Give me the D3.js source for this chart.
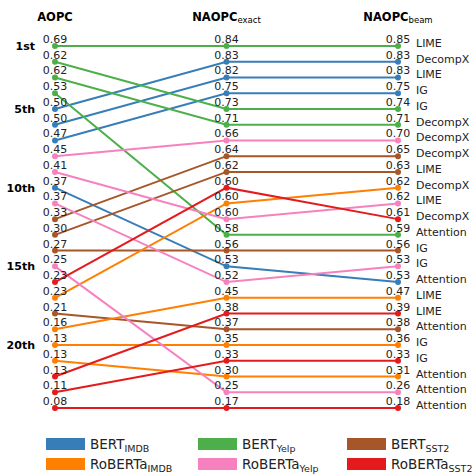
<!DOCTYPE html>
<html>
<head>
<meta charset="utf-8">
<script src="https://cdn.jsdelivr.net/npm/d3@7"></script>
<style>
  body { margin: 0; background: #fff; }
  svg { font-family: "DejaVu Sans", sans-serif; }
</style>
</head>
<body>
<svg width="475" height="476"></svg>
<script>
// each series: [model, dataset]; methods share the same order in every array
const series = [["BERT", "IMDB"], ["BERT", "Yelp"], ["BERT", "SST2"],
                ["RoBERTa", "IMDB"], ["RoBERTa", "Yelp"], ["RoBERTa", "SST2"]];
const colors = ["#377eb8", "#4daf4a", "#a65628", "#ff7f00", "#f781bf", "#e41a1c"];
const methods = ["DecompX", "LIME", "IG", "Attention"];

const aopc  = [[0.50, 0.50, 0.47, 0.37], [0.62, 0.69, 0.62, 0.53], [0.33, 0.30, 0.27, 0.21],
               [0.23, 0.16, 0.13, 0.13], [0.45, 0.41, 0.37, 0.25], [0.23, 0.13, 0.11, 0.08]];
const exact = [[0.83, 0.82, 0.75, 0.53], [0.71, 0.84, 0.73, 0.58], [0.64, 0.62, 0.56, 0.37],
               [0.60, 0.45, 0.35, 0.30], [0.66, 0.60, 0.52, 0.25], [0.60, 0.38, 0.33, 0.17]];
const beam  = [[0.83, 0.83, 0.75, 0.53], [0.71, 0.85, 0.74, 0.59], [0.65, 0.63, 0.56, 0.38],
               [0.62, 0.47, 0.36, 0.31], [0.70, 0.62, 0.53, 0.26], [0.61, 0.39, 0.33, 0.18]];

// rank positions (0 = best) as they appear in the picture
const aopcRank  = [[4, 5, 6, 9], [2, 0, 1, 3], [11, 12, 13, 17], [16, 18, 19, 20], [7, 8, 10, 14], [15, 21, 22, 23]];
const exactRank = [[1, 2, 3, 14], [5, 0, 4, 12], [7, 8, 13, 18], [10, 16, 19, 21], [6, 11, 15, 22], [9, 17, 20, 23]];
const beamRank  = [[1, 2, 3, 15], [5, 0, 4, 12], [7, 8, 13, 18], [9, 16, 19, 21], [6, 10, 14, 22], [11, 17, 20, 23]];

const rankTicks = [[0, "1st"], [4, "5th"], [9, "10th"], [14, "15th"], [19, "20th"]];
const columns = [["AOPC", ""], ["NAOPC", "exact"], ["NAOPC", "beam"]];

const svg = d3.select("svg");
const x = d3.scalePoint().domain([0, 1, 2]).range([55, 398]);
const y = d3.scaleLinear().domain([0, 23]).range([46, 408]);

// flatten into items
const items = [];
series.forEach((s, i) => {
  methods.forEach((m, j) => {
    items.push({
      color: colors[i], method: m,
      vals: [aopc[i][j], exact[i][j], beam[i][j]],
      ranks: [aopcRank[i][j], exactRank[i][j], beamRank[i][j]]
    });
  });
});

// titles
const titles = svg.append("g").selectAll("text")
  .data(columns).enter().append("text")
  .attr("x", (d, i) => x(i))
  .attr("y", 21)
  .attr("text-anchor", "middle")
  .style("font-size", "11.5px");
titles.append("tspan").style("font-weight", "bold").text(d => d[0]);
titles.append("tspan").attr("dy", 2).style("font-size", "8.5px").text(d => d[1]);

// rank labels
svg.append("g").selectAll("text")
  .data(rankTicks).enter().append("text")
  .attr("x", 35)
  .attr("y", d => y(d[0]))
  .attr("dy", "0.35em")
  .attr("text-anchor", "end")
  .style("font-weight", "bold")
  .style("font-size", "11px")
  .text(d => d[1]);

const line = d3.line().x((d, i) => x(i)).y(d => y(d));

svg.append("g").selectAll("path")
  .data(items).enter().append("path")
  .attr("d", d => line(d.ranks))
  .attr("fill", "none")
  .attr("stroke", d => d.color)
  .attr("stroke-width", 2);

const pts = [];
items.forEach(d => d.ranks.forEach((r, c) => pts.push({ c, r, v: d.vals[c], color: d.color })));

svg.append("g").selectAll("circle")
  .data(pts).enter().append("circle")
  .attr("cx", d => x(d.c))
  .attr("cy", d => y(d.r))
  .attr("r", 3)
  .attr("fill", d => d.color);

svg.append("g").selectAll("text")
  .data(pts).enter().append("text")
  .attr("x", d => x(d.c))
  .attr("y", d => y(d.r) - 3)
  .attr("text-anchor", "middle")
  .style("font-size", "11px")
  .style("fill", "#222")
  .text(d => d3.format(".2f")(d.v));

// method names on the right
svg.append("g").selectAll("text")
  .data(items).enter().append("text")
  .attr("x", x(2) + 18)
  .attr("y", d => y(d.ranks[2]) + 1)
  .style("font-size", "11px")
  .style("fill", "#222")
  .text(d => d.method);

// legend
const legX = [46, 198, 347];
const leg = svg.append("g").selectAll("g")
  .data(series).enter().append("g")
  .attr("transform", (d, i) => `translate(${legX[i % 3]},${438 + Math.floor(i / 3) * 20})`);
leg.append("rect")
  .attr("width", 39).attr("height", 12)
  .attr("fill", (d, i) => colors[i]);
const lt = leg.append("text")
  .attr("x", 44).attr("y", 11)
  .style("font-size", "13.5px")
  .style("fill", "#222");
lt.append("tspan").text(d => d[0]);
lt.append("tspan").attr("dy", 3).style("font-size", "9.5px").text(d => d[1]);
</script>
</body>
</html>
